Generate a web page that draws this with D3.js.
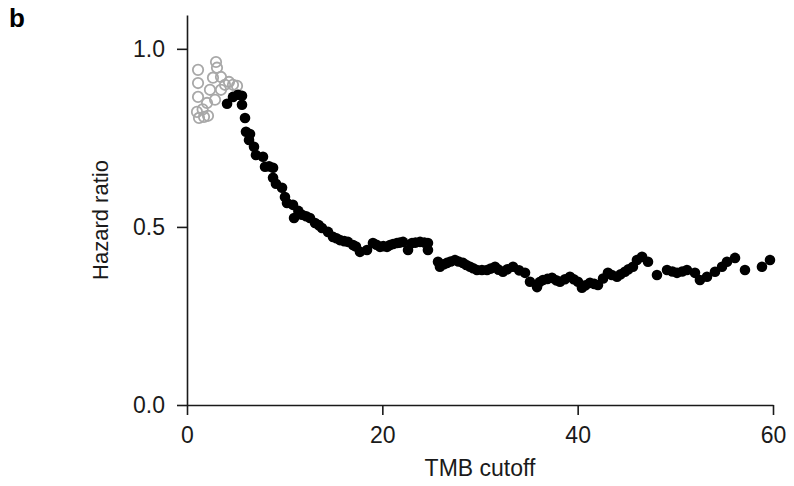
<!DOCTYPE html>
<html>
<head>
<meta charset="utf-8">
<script src="https://cdn.jsdelivr.net/npm/d3@7"></script>
<style>
  html, body { margin: 0; padding: 0; background: #fff; }
  svg { display: block; }
  text { font-family: "Liberation Sans", Arial, Helvetica, sans-serif; }
</style>
</head>
<body>
<svg id="chart" width="794" height="486"></svg>
<script>
// Gray open circles (non-significant cutoffs)
const grayX = [1.13, 1.13, 1.13, 1.02, 1.23, 1.74, 2.15, 2.05, 2.35, 2.66, 2.97, 3.07, 3.48, 3.48, 3.89, 4.30, 4.71, 5.12, 2.87, 1.6];
const grayY = [0.941, 0.904, 0.865, 0.823, 0.806, 0.809, 0.812, 0.848, 0.885, 0.919, 0.963, 0.947, 0.921, 0.885, 0.899, 0.907, 0.899, 0.896, 0.857, 0.83];

// Black filled circles (significant cutoffs)
const blackX = [4.10, 4.71, 5.22, 5.63, 5.63, 5.94, 6.04, 6.45, 6.35, 6.86, 7.06, 7.78, 7.99, 8.4, 8.81, 8.81, 9.11, 9.73, 10.03, 10.24, 10.85, 10.96, 11.4, 11.77, 12.2, 12.59, 13.11, 13.5, 13.82, 14.44, 14.95, 15.3, 15.66, 16.1, 16.48, 17.00, 17.3, 17.71, 18.43, 19.04, 19.4, 19.76, 20.1, 20.48, 20.78, 21.1, 21.50, 21.8, 22.12, 22.63, 23.04, 23.4, 23.86, 24.3, 24.67, 24.67, 25.70, 25.90, 26.3, 26.62, 27.0, 27.44, 27.8, 28.26, 28.6, 28.98, 29.3, 29.69, 30.2, 30.72, 31.1, 31.54, 31.9, 32.35, 32.8, 33.38, 34.0, 34.61, 35.12, 35.84, 36.1, 36.45, 36.9, 37.37, 37.8, 38.19, 38.7, 39.21, 39.6, 40.03, 40.44, 40.8, 41.26, 41.7, 42.08, 42.6, 43.10, 43.5, 44.03, 44.4, 44.84, 45.2, 45.66, 46.07, 46.59, 47.20, 48.12, 49.15, 49.7, 50.17, 50.7, 51.19, 52.01, 52.52, 53.24, 54.06, 54.78, 55.29, 56.11, 57.13, 58.87, 59.69];
const blackY = [0.846, 0.865, 0.871, 0.868, 0.843, 0.806, 0.767, 0.761, 0.744, 0.725, 0.702, 0.697, 0.669, 0.67, 0.666, 0.638, 0.621, 0.610, 0.584, 0.567, 0.562, 0.525, 0.545, 0.534, 0.53, 0.525, 0.511, 0.505, 0.497, 0.486, 0.472, 0.468, 0.463, 0.46, 0.458, 0.449, 0.445, 0.430, 0.435, 0.455, 0.45, 0.444, 0.446, 0.444, 0.449, 0.452, 0.455, 0.456, 0.458, 0.435, 0.455, 0.456, 0.458, 0.456, 0.455, 0.435, 0.402, 0.388, 0.395, 0.399, 0.403, 0.407, 0.403, 0.399, 0.393, 0.388, 0.384, 0.379, 0.379, 0.379, 0.383, 0.388, 0.38, 0.374, 0.381, 0.388, 0.378, 0.371, 0.346, 0.331, 0.345, 0.351, 0.354, 0.357, 0.35, 0.346, 0.353, 0.360, 0.353, 0.346, 0.329, 0.336, 0.343, 0.34, 0.337, 0.355, 0.371, 0.365, 0.360, 0.367, 0.374, 0.381, 0.388, 0.407, 0.416, 0.402, 0.365, 0.379, 0.375, 0.371, 0.375, 0.379, 0.371, 0.351, 0.360, 0.374, 0.388, 0.402, 0.413, 0.379, 0.388, 0.407];

const xTicks = [0, 20, 40, 60];
const yTicks = [0.0, 0.5, 1.0];

const svg = d3.select("#chart");
const x = d3.scaleLinear().domain([0, 60]).range([187, 773]);
const y = d3.scaleLinear().domain([0, 1.095]).range([405, 15]);

// Points
const gray = grayX.map((d, i) => ({x: d, y: grayY[i]}));
const black = blackX.map((d, i) => ({x: d, y: blackY[i]}));

svg.append("g").selectAll("circle").data(gray).join("circle")
  .attr("cx", d => x(d.x)).attr("cy", d => y(d.y)).attr("r", 5.2)
  .attr("fill", "none").attr("stroke", "#a8a8a8").attr("stroke-width", 1.8);

svg.append("g").selectAll("circle").data(black).join("circle")
  .attr("cx", d => x(d.x)).attr("cy", d => y(d.y)).attr("r", 5.3)
  .attr("fill", "#000");

// Axes
const xAxis = svg.append("g").attr("transform", "translate(0,405)")
  .call(d3.axisBottom(x).tickValues(xTicks).tickSize(10).tickSizeOuter(0).tickPadding(12).tickFormat(d3.format("d")));
const yAxis = svg.append("g").attr("transform", "translate(187,0)")
  .call(d3.axisLeft(y).tickValues(yTicks).tickSize(10).tickSizeOuter(0).tickPadding(12).tickFormat(d3.format(".1f")));

[xAxis, yAxis].forEach(g => {
  g.selectAll("path, line").attr("stroke", "#1a1a1a").attr("stroke-width", 1.6);
  g.selectAll("text").attr("font-size", 23).attr("fill", "#1a1a1a")
    .attr("font-family", "'Liberation Sans', Arial, sans-serif");
});

// Axis titles
svg.append("text").attr("x", 480).attr("y", 476).attr("text-anchor", "middle")
  .attr("font-size", 23).attr("fill", "#1a1a1a").text("TMB cutoff");
svg.append("text").attr("transform", "translate(108,220) rotate(-90)").attr("text-anchor", "middle")
  .attr("font-size", 22).attr("fill", "#1a1a1a").text("Hazard ratio");

// Panel label
svg.append("text").attr("x", 9).attr("y", 27).attr("font-size", 26).attr("font-weight", "bold")
  .attr("fill", "#000").text("b");
</script>
</body>
</html>
